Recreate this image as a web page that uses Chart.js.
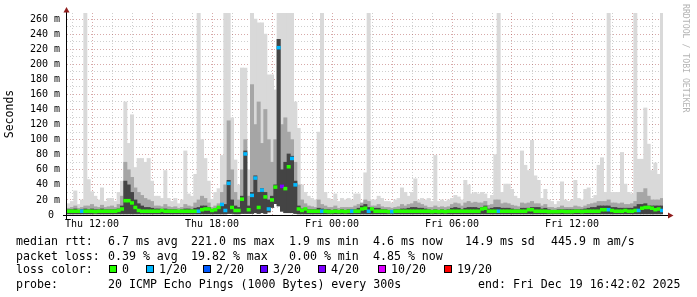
<!DOCTYPE html>
<html><head><meta charset="utf-8">
<script src="https://cdn.jsdelivr.net/npm/chart.js@4/dist/chart.umd.min.js"></script>
<style>
html,body{margin:0;padding:0;background:#fff;}
#wrap{position:relative;width:697px;height:297px;overflow:hidden;background:#fff;}
#c{position:absolute;left:0;top:0;}
.t{position:absolute;font-family:"DejaVu Sans Mono",monospace;font-size:11.6px;line-height:14px;white-space:pre;color:#000;}
.box{position:absolute;width:6px;height:6px;border:1px solid #000;top:265px;}
#wm{position:absolute;left:681px;top:4px;writing-mode:vertical-rl;font-family:"DejaVu Sans Mono",monospace;font-size:8.2px;color:#b4b4b4;white-space:pre;}
</style></head>
<body><div id="wrap">
<canvas id="c" width="697" height="297"></canvas>
<div id="wm">RRDTOOL / TOBI OETIKER</div>
<div class="t" style="left:16px;top:234px">median rtt:</div>
<div class="t" style="left:108px;top:234px">6.7 ms avg</div>
<div class="t" style="left:191px;top:234px">221.0 ms max</div>
<div class="t" style="left:289px;top:234px">1.9 ms min</div>
<div class="t" style="left:373px;top:234px">4.6 ms now</div>
<div class="t" style="left:465px;top:234px">14.9 ms sd</div>
<div class="t" style="left:551px;top:234px">445.9 m am/s</div>
<div class="t" style="left:16px;top:248.5px">packet loss:</div>
<div class="t" style="left:108px;top:248.5px">0.39 % avg</div>
<div class="t" style="left:191px;top:248.5px">19.82 % max</div>
<div class="t" style="left:289px;top:248.5px">0.00 % min</div>
<div class="t" style="left:373px;top:248.5px">4.85 % now</div>
<div class="t" style="left:16px;top:262px">loss color:</div>
<div id="lossLegend"></div>
<div class="t" style="left:16px;top:277px">probe:</div>
<div class="t" style="left:108px;top:277px">20 ICMP Echo Pings (1000 Bytes) every 300s</div>
<div class="t" style="left:478px;top:277px">end: Fri Dec 19 16:42:02 2025</div>
</div>
<script>
// time axis: minutes since Thu 00:00; first step starts Thu 10:45, 10-minute steps
const startMin = 645;
const stepMin = 10;
const endMin = 2433;

// smoke (ms): bottom of smoke, light (max), medium, dark core
const smokeMin = [
 1.5,1.5,1.5,1.5,1.5,1.5, 1.5,1.5,1.5,1.5,1.5,1.5, 1.5,1.5,1.5,1.5,1.5,1.5, 1.5,1.5,1.5,1.5,1.5,1.5,
 1.5,1.5,1.5,1.5,1.5,1.5, 1.5,1.5,1.5,1.5,1.5,1.5, 1.5,1.5,1.5,1.5,1.5,1.5, 1.5,1.5,1.5,1.5,1.5,1.5,
 2,2,1.5,1.5,2,2, 2,2,3,2,3,2, 4,10,15,12,5,3, 3,3,2,1.5,1.5,1.5,
 1.5,1.5,1.5,1.5,1.5,1.5, 1.5,1.5,1.5,1.5,1.5,1.5, 1.5,1.5,1.5,1.5,1.5,1.5, 1.5,1.5,1.5,1.5,1.5,1.5,
 1.5,1.5,1.5,1.5,1.5,1.5, 1.5,1.5,1.5,1.5,1.5,1.5, 1.5,1.5,1.5,1.5,1.5,1.5, 1.5,1.5,1.5,1.5,1.5,1.5,
 1.5,1.5,1.5,1.5,1.5,1.5, 1.5,1.5,1.5,1.5,1.5,1.5, 1.5,1.5,1.5,1.5,1.5,1.5, 1.5,1.5,1.5,1.5,1.5,1.5,
 1.5,1.5,1.5,1.5,1.5,1.5, 1.5,1.5,1.5,1.5,1.5,1.5, 1.5,1.5,1.5,1.5,1.5,1.5, 1.5,1.5,1.5,1.5,1.5,1.5,
 1.5,1.5,1.5,1.5,1.5,1.5, 1.5,1.5,1.5,1.5,1.5
];
const smokeMax = [
 15,18,32,14,20,268, 47,31,25,20,36,18, 22,22,18,30,45,150, 95,133,63,75,75,70,
 75,45,25,25,22,59, 22,18,22,15,20,85, 28,25,54,268,100,75, 45,21,30,35,79,268,
 268,129,73,40,195,195, 60,268,260,255,255,240, 186,186,166,268,268,268, 268,268,150,115,40,30,
 25,22,20,110,268,30, 22,20,28,18,22,20, 22,20,28,28,15,56, 268,20,20,25,22,18,
 18,16,20,22,36,30, 25,30,48,20,22,20, 22,18,79,18,20,18, 20,22,26,24,20,46,
 40,28,30,28,30,28, 22,26,80,268,30,41, 41,34,25,22,85,66, 59,99,52,46,22,34,
 20,18,14,18,44,20, 18,20,46,22,20,34, 36,22,26,66,76,30, 268,30,30,30,83,41,
 30,28,268,74,74,142, 94,59,69,54,268
];
const smokeMid = [
 9,10,12,9,10,12, 12,14,11,10,13,10, 11,12,10,14,25,70, 60,50,36,30,26,22,
 20,18,12,12,11,14, 11,10,11,9,10,14, 12,11,16,20,25,22, 16,10,12,15,30,40,
 125,60,30,20,60,100, 25,173,120,150,95,140, 100,70,100,233,120,129, 110,100,70,40,20,15,
 12,11,10,20,14,12, 10,10,12,9,10,10, 10,10,12,14,16,20, 18,12,12,14,11,10,
 10,9,10,11,14,12, 14,15,18,16,14,12, 10,10,12,10,11,10, 11,14,16,15,12,16,
 18,16,17,16,16,18, 13,14,20,20,15,16, 15,13,12,11,16,15, 16,18,15,15,12,14,
 10,10,9,10,12,10, 10,10,12,11,10,12, 14,15,16,18,18,18, 20,16,16,15,16,14,
 14,15,18,30,30,35, 25,20,20,20,22
];
const smokeCore = [
 7,7,8,6,7,8, 7,8,7,7,8,7, 7,7,7,8,12,45, 40,30,20,15,12,10,
 10,9,8,8,7,8, 7,7,7,6,7,8, 8,7,9,10,12,12, 10,6,8,10,15,14,
 46,20,12,10,25,85, 12,30,52,30,35,30, 20,25,40,233,60,70, 81,78,45,12,8,8,
 7,7,7,9,8,7, 7,6,7,6,7,6, 7,7,7,9,12,14, 10,9,9,9,7,7,
 6,6,7,7,8,8, 9,10,10,9,9,8, 7,6,7,6,7,6, 7,9,10,9,7,9,
 10,10,10,9,10,12, 8,9,10,10,9,9, 9,8,7,7,9,9, 9,10,10,10,8,9,
 7,6,6,7,7,7, 7,7,7,7,7,8, 9,10,10,12,12,12, 12,10,10,9,9,9,
 9,9,11,14,14,15, 12,12,12,12,12
];
// median RTT (ms) and lost pings (of 20) per step
const medianRtt = [
 5,5,5,5,5,5, 5,5,4.5,5,5,5, 5,5,5,6,8,19, 19,16,10,6,5,5,
 5,5,5,5,6,5, 5,5,5,5,5,5, 5,5,5,5,7,8, 8,6,7,10,14,6,
 42,10,6,6,21,81, 7,26,49,10,33,24, 8,20,37,222,38,35, 64,75,40,8,6,8,
 5,5,5,5,5,5, 4.5,4.5,5,4.5,5,4.5, 5,5,5,5,8,9, 5,8,5,5,5,5,
 4.5,4.5,5,5,5,5, 5,5,5,5,5,5, 5,4.5,5,4.5,5,4.5, 5,5,5,5,5,5,
 5,5,5,5,8,9, 5,5,5,5,5,5, 5,5,5,5,5,5, 7,7,5,5,5,5,
 4.5,4.5,4.5,4.5,5,4.5, 4.5,4.5,5,5,4.5,5, 5,5,5,5,7,7, 7,6,5,5,5,6,
 5,5,6,6,9,10, 10,9,7,8,6
];
const lossCount = [
 0,0,0,0,1,0, 0,0,0,0,0,0, 0,0,0,0,0,0, 0,0,0,0,0,0,
 0,0,0,0,0,0, 0,0,0,0,0,0, 0,0,0,1,0,0, 0,0,0,0,1,1,
 1,0,0,0,0,1, 0,1,1,0,1,0, 1,0,0,1,4,0, 0,1,1,0,0,0,
 0,0,0,0,1,0, 0,0,0,0,0,0, 0,1,0,0,0,0, 1,0,0,0,0,0,
 0,1,0,0,0,0, 0,0,0,0,0,0, 0,0,0,0,0,0, 0,0,0,0,0,0,
 0,0,0,0,0,0, 0,0,0,1,0,0, 0,0,0,0,0,0, 0,0,0,0,0,0,
 0,0,0,0,0,0, 0,0,0,0,0,0, 0,0,0,0,0,0, 1,0,0,0,0,0,
 0,0,0,1,0,0, 0,0,0,0,1
];
const lossLevels = [0, 1, 2, 3, 4, 10, 19];
const lossLabels = ['0', '1/20', '2/20', '3/20', '4/20', '10/20', '19/20'];
const lossColors = ['#26ff00', '#00b8ff', '#0059ff', '#5e00ff', '#7e00ff', '#dd00ff', '#ff0000'];
const xTickValues = [720, 1080, 1440, 1800, 2160];
const xTickLabels = ['Thu 12:00', 'Thu 18:00', 'Fri 00:00', 'Fri 06:00', 'Fri 12:00'];

// loss legend (boxes + labels)
const legendX = [109, 146, 203, 260, 318, 378, 444];
const lg = document.getElementById('lossLegend');
lossLabels.forEach((lab, k) => {
  const b = document.createElement('div');
  b.className = 'box'; b.style.left = legendX[k] + 'px'; b.style.background = lossColors[k];
  lg.appendChild(b);
  const t = document.createElement('div');
  t.className = 't'; t.style.left = (legendX[k] + 13) + 'px'; t.style.top = '262px'; t.textContent = lab;
  lg.appendChild(t);
});

const xs = smokeMax.map((_, i) => startMin + stepMin * i + stepMin / 2);
function lossColor(n) {
  for (let k = 0; k < lossLevels.length; k++) if (n <= lossLevels[k]) return lossColors[k];
  return lossColors[lossColors.length - 1];
}
const MED_HALF = 1.9;
const GRID = 'rgba(140,140,140,0.42)';
const MGRID = 'rgba(150,30,30,0.38)';
const mono = 'DejaVu Sans Mono';

const axisArrows = {
  id: 'axisArrows',
  afterDraw(chart) {
    const {ctx, chartArea: a} = chart;
    ctx.save();
    ctx.strokeStyle = '#000'; ctx.lineWidth = 1;
    ctx.beginPath();
    ctx.moveTo(a.left - 0.5, a.bottom + 4); ctx.lineTo(a.left - 0.5, a.top - 3);
    ctx.moveTo(a.left - 4, a.bottom + 0.5); ctx.lineTo(a.right + 6, a.bottom + 0.5);
    ctx.stroke();
    ctx.fillStyle = '#8f1c1c';
    ctx.beginPath();
    ctx.moveTo(a.left - 0.5, a.top - 6); ctx.lineTo(a.left - 3.5, a.top - 0.5); ctx.lineTo(a.left + 2.5, a.top - 0.5);
    ctx.closePath(); ctx.fill();
    ctx.beginPath();
    ctx.moveTo(a.right + 10.5, a.bottom + 0.5); ctx.lineTo(a.right + 5, a.bottom - 2.5); ctx.lineTo(a.right + 5, a.bottom + 3.5);
    ctx.closePath(); ctx.fill();
    ctx.restore();
  }
};

const barBase = {type: 'bar', grouped: false, borderWidth: 0, barPercentage: 1, categoryPercentage: 1};
new Chart(document.getElementById('c'), {
  type: 'bar',
  data: {
    datasets: [
      Object.assign({}, barBase, {
        label: 'median',
        data: medianRtt.map((m, i) => ({x: xs[i], y: [m - MED_HALF, m + MED_HALF]})),
        backgroundColor: lossCount.map(lossColor)
      }),
      Object.assign({}, barBase, {
        label: 'core',
        data: smokeCore.map((v, i) => ({x: xs[i], y: [smokeMin[i], v]})),
        backgroundColor: '#444444'
      }),
      Object.assign({}, barBase, {
        label: 'mid',
        data: smokeMid.map((v, i) => ({x: xs[i], y: [smokeMin[i], v]})),
        backgroundColor: '#a6a6a6'
      }),
      Object.assign({}, barBase, {
        label: 'max',
        data: smokeMax.map((v, i) => ({x: xs[i], y: [smokeMin[i], v]})),
        backgroundColor: '#d9d9d9'
      })
    ]
  },
  options: {
    responsive: false,
    animation: false,
    events: [],
    layout: {padding: {left: 0, top: 13, right: 34, bottom: 62}},
    plugins: {legend: {display: false}, tooltip: {enabled: false}},
    scales: {
      x: {
        type: 'linear', min: startMin, max: endMin, offset: false, bounds: 'data', z: 1,
        afterFit(s) { s.height = 20; },
        afterBuildTicks(s) {
          const t = [];
          for (let v = Math.ceil(startMin / 60) * 60; v <= endMin; v += 60) t.push({value: v});
          s.ticks = t;
        },
        ticks: {
          autoSkip: false, maxRotation: 0, minRotation: 0, padding: 3, color: '#000',
          font: {family: mono, size: 10},
          callback(v) { const k = xTickValues.indexOf(v); return k >= 0 ? xTickLabels[k] : ''; }
        },
        grid: {drawTicks: false, offset: false, color: c => (c.tick && c.tick.value % 180 === 0) ? MGRID : GRID},
        border: {display: false, dash: [1, 2]}
      },
      y: {
        type: 'linear', min: 0, max: 268, bounds: 'data', z: 1,
        afterFit(s) { s.width = 67; },
        afterBuildTicks(s) {
          const t = [];
          for (let v = 0; v <= 260; v += 10) t.push({value: v});
          s.ticks = t;
        },
        ticks: {
          autoSkip: false, padding: 7, color: '#000', font: {family: mono, size: 10},
          callback(v) { return v % 20 === 0 ? (v === 0 ? '0 ' : v + ' m') : ''; }
        },
        grid: {drawTicks: false, color: c => (!c.tick || c.tick.value === 0) ? 'rgba(0,0,0,0)' : (c.tick.value % 20 === 0 ? MGRID : GRID)},
        border: {display: false, dash: [1, 2]},
        title: {display: true, text: 'Seconds', color: '#000', font: {family: mono, size: 11.5}, padding: {top: 3, bottom: 0}}
      }
    }
  },
  plugins: [axisArrows]
});
</script>
</body></html>
